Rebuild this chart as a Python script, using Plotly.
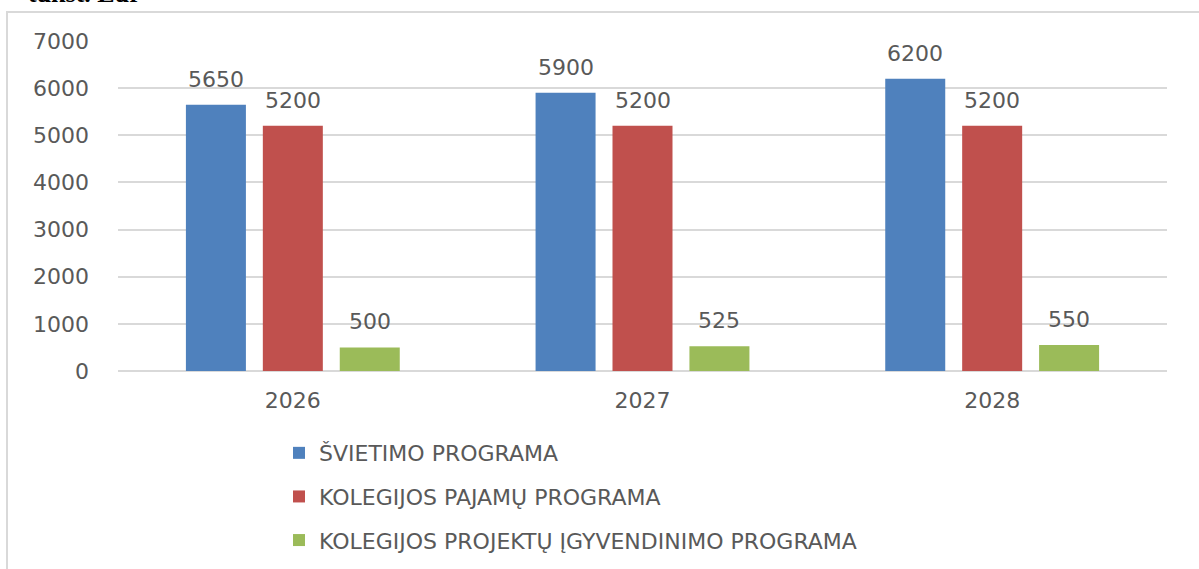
import plotly.graph_objects as go

years = ["2026", "2027", "2028"]
series_names = ["ŠVIETIMO PROGRAMA", "KOLEGIJOS PAJAMŲ PROGRAMA", "KOLEGIJOS PROJEKTŲ ĮGYVENDINIMO PROGRAMA"]
svietimo = [5650, 5900, 6200]
pajamu = [5200, 5200, 5200]
projektu = [500, 525, 550]
colors = ["#4f81bd", "#c0504d", "#9bbb59"]
y_ticks = [0, 1000, 2000, 3000, 4000, 5000, 6000, 7000]
unit_label = "tūkst. Eur"

FONT = "DejaVu Sans"
GRAY = "#595959"
BARGAP = 0.34
GROUPGAP = 0.22

all_series = [svietimo, pajamu, projektu]
fig = go.Figure()
for i, (name, vals, col) in enumerate(zip(series_names, all_series, colors)):
    fig.add_trace(go.Bar(
        x=years, y=vals, name=name, marker=dict(color=col, line=dict(width=0)),
        legendgroup=f"g{i}",
    ))

# value labels above bars
n = len(all_series)
slot = (1 - BARGAP) / n
for j, vals in enumerate(all_series):
    for i, v in enumerate(vals):
        fig.add_annotation(
            x=i + (j - (n - 1) / 2) * slot, y=v, xref="x", yref="y",
            text=str(v), showarrow=False, yanchor="bottom", yshift=11,
            font=dict(family=FONT, size=22, color=GRAY),
        )

fig.add_annotation(
    x=0.0, y=1.094, xref="paper", yref="paper", xanchor="left", yanchor="bottom",
    xshift=-92, text="<b>" + unit_label + "</b>", showarrow=False,
    font=dict(family="Liberation Serif", size=26, color="black"),
)

fig.add_shape(
    type="rect", xref="paper", yref="paper",
    x0=-0.1058, y0=-0.75, x1=1.1, y1=1.0879,
    line=dict(color="#d9d9d9", width=2), fillcolor="rgba(0,0,0,0)", layer="below",
)

fig.update_layout(
    width=1199, height=569,
    margin=dict(l=118, r=32, t=41, b=198, autoexpand=False),
    paper_bgcolor="white", plot_bgcolor="white",
    barmode="group", bargap=BARGAP, bargroupgap=GROUPGAP,
    showlegend=True,
    legend=dict(
        x=0.1535, y=-0.185, xanchor="left", yanchor="top",
        font=dict(family=FONT, size=22, color=GRAY),
        tracegroupgap=12, orientation="v", bgcolor="rgba(0,0,0,0)",
    ),
    xaxis=dict(
        tickfont=dict(family=FONT, size=22, color=GRAY),
        showline=False, showgrid=False, ticks="", ticklabelstandoff=14,
    ),
    yaxis=dict(
        range=[0, 7000], tickvals=y_ticks,
        tickfont=dict(family=FONT, size=22, color=GRAY),
        showgrid=True, gridcolor="#d9d9d9", gridwidth=2,
        zeroline=True, zerolinecolor="#d9d9d9", zerolinewidth=2,
        showline=False, ticks="", ticklabelstandoff=28,
    ),
)

fig.write_html("out.html", config={"displayModeBar": False},
               post_script="document.body.style.margin='0px';")
